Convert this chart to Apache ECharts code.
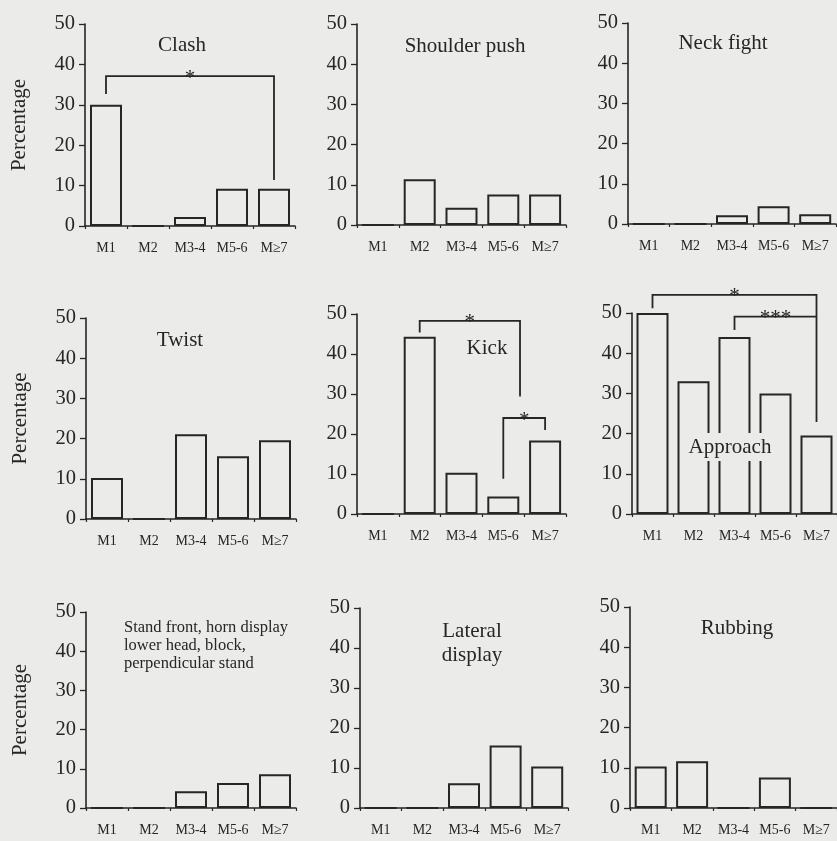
<!DOCTYPE html>
<html>
<head>
<meta charset="utf-8">
<script src="https://cdn.jsdelivr.net/npm/echarts@6/dist/echarts.min.js"></script>
<style>
html,body{margin:0;padding:0;background:#ebebe9;}
#chart{width:837px;height:841px;}
</style>
</head>
<body>
<div id="chart"></div>
<script>
// ---- data ----
const categories = ['M1', 'M2', 'M3-4', 'M5-6', 'M≥7'];
const yMin = 0, yMax = 50, yStep = 10;

const clash          = [30, 0, 2.2, 9.2, 9.2];
const shoulderPush   = [0, 11.4, 4.3, 7.6, 7.6];
const neckFight      = [0, 0, 2.2, 4.4, 2.4];
const twist          = [10.2, 0, 21.1, 15.6, 19.6];
const kick           = [0, 44.3, 10.3, 4.4, 18.4];
const approach       = [50, 33, 44, 30, 19.5];
const standFront     = [0, 0, 4.3, 6.4, 8.6];
const lateralDisplay = [0, 0, 6.2, 15.6, 10.4];
const rubbing        = [10.3, 11.6, 0, 7.6, 0];

const panelTitles = ['Clash', 'Shoulder push', 'Neck fight', 'Twist', 'Kick', 'Approach',
  'Stand front, horn display\nlower head, block,\nperpendicular stand', 'Lateral\ndisplay', 'Rubbing'];
const panelData = [clash, shoulderPush, neckFight, twist, kick, approach, standFront, lateralDisplay, rubbing];

// significance brackets: [panel, fromCat, toCat, yTop, yLeftEnd, yRightEnd, label]
const clashBrackets    = [[0, 0, 4, 37.1, 32.7, 11.4, '*']];
const kickBrackets     = [[4, 1, 3.4, 48.3, 45.4, 29.4, '*'], [4, 3, 4, 24, 8.8, 21, '*']];
const approachBrackets = [[5, 0, 4, 54.5, 51.2, 22.9, '*'], [5, 2, 4, 49.1, 45.8, 49.1, '***']];
const brackets = clashBrackets.concat(kickBrackets, approachBrackets);

// ---- layout ----
const BG = '#ebebe9';
const INK = '#262626';
const FONT = '"Liberation Serif", "DejaVu Serif", serif';
const grids = [
  {left: 85,  top: 24,  width: 210, height: 202},
  {left: 357, top: 24,  width: 209, height: 201},
  {left: 628, top: 23,  width: 208, height: 201},
  {left: 86,  top: 318, width: 210, height: 201},
  {left: 357, top: 314, width: 209, height: 200},
  {left: 632, top: 313, width: 205, height: 201},
  {left: 86,  top: 612, width: 210, height: 196},
  {left: 360, top: 608, width: 208, height: 200},
  {left: 630, top: 607, width: 207, height: 201}
];
const titlePos = [
  {x: 182, y: 45, align: 'center'},
  {x: 465, y: 46, align: 'center'},
  {x: 723, y: 43, align: 'center'},
  {x: 180, y: 340, align: 'center'},
  {x: 487, y: 348, align: 'center'},
  {x: 730, y: 447, align: 'center', bg: true},
  {x: 124, y: 646, align: 'left', size: 16.5, lh: 18},
  {x: 472, y: 643, align: 'center', lh: 24},
  {x: 737, y: 628, align: 'center'}
];

const xAxes = [], yAxes = [], series = [], graphics = [];
grids.forEach((g, i) => {
  xAxes.push({
    type: 'category', gridIndex: i, data: categories,
    axisLine: {lineStyle: {color: INK, width: 1.5}},
    axisTick: {show: true, length: 3, lineStyle: {color: INK, width: 1.2}},
    axisLabel: {interval: 0, fontFamily: FONT, fontSize: 14, color: INK, margin: 15}
  });
  const y = {
    type: 'value', gridIndex: i, min: yMin, max: yMax, interval: yStep,
    axisLine: {show: true, lineStyle: {color: INK, width: 1.6}},
    axisTick: {show: true, length: 6, lineStyle: {color: INK, width: 1.3}},
    splitLine: {show: false},
    axisLabel: {fontFamily: FONT, fontSize: 20.5, color: INK, margin: 10}
  };
  if (i % 3 === 0) {
    y.name = 'Percentage';
    y.nameLocation = 'middle';
    y.nameGap = 55;
    y.nameTextStyle = {fontFamily: FONT, fontSize: 21, color: INK};
  }
  yAxes.push(y);
  series.push({
    type: 'bar', xAxisIndex: i, yAxisIndex: i, data: panelData[i],
    barWidth: 32, silent: true, animation: false,
    itemStyle: {color: BG, borderColor: INK, borderWidth: 2}
  });
  const t = titlePos[i];
  graphics.push({
    type: 'text', x: t.x, y: t.y, z: 100, silent: true,
    style: {
      text: panelTitles[i], fill: INK, font: (t.size || 21) + 'px ' + FONT,
      textAlign: t.align, textVerticalAlign: 'middle', lineHeight: t.lh || 24,
      backgroundColor: t.bg ? BG : null, padding: t.bg ? [2, 1] : 0
    }
  });
});

// bracket series, one per panel having brackets
[0, 4, 5].forEach(p => {
  const list = brackets.filter(b => b[0] === p);
  series.push({
    type: 'custom', xAxisIndex: p, yAxisIndex: p, clip: false, silent: true, animation: false,
    z: 5,
    data: list.map(() => [0, 0]),
    renderItem: function (params, api) {
      const b = list[params.dataIndex];
      const c0 = api.coord([0, 0]), c1 = api.coord([1, 0]);
      const step = c1[0] - c0[0];
      const x1 = c0[0] + b[1] * step, x2 = c0[0] + b[2] * step;
      const yTop = api.coord([0, b[3]])[1];
      const yL = api.coord([0, b[4]])[1];
      const yR = api.coord([0, b[5]])[1];
      return {
        type: 'group',
        children: [
          {type: 'polyline', shape: {points: [[x1, yL], [x1, yTop], [x2, yTop], [x2, yR]]},
           style: {stroke: INK, lineWidth: 1.8, fill: null}},
          {type: 'text', x: (x1 + x2) / 2, y: yTop + 2,
           style: {text: b[6], fill: INK, font: '21px ' + FONT, textAlign: 'center', textVerticalAlign: 'middle'}}
        ]
      };
    }
  });
});

const chart = echarts.init(document.getElementById('chart'), null, {renderer: 'canvas'});
chart.setOption({
  backgroundColor: BG,
  animation: false,
  grid: grids,
  xAxis: xAxes,
  yAxis: yAxes,
  series: series,
  graphic: graphics
});
</script>
</body>
</html>
